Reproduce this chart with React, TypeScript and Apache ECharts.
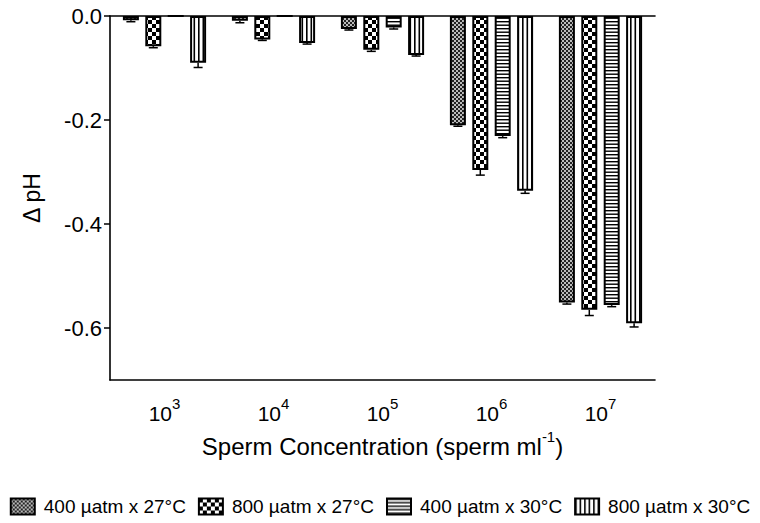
import React, { useEffect, useRef } from 'react';
import * as echarts from 'echarts';

// Concentration exponents (sperm ml^-1 = 10^n)
const exponents = ['3', '4', '5', '6', '7'];
const seriesNames = ['400 µatm x 27°C', '800 µatm x 27°C', '400 µatm x 30°C', '800 µatm x 30°C'];

// Mean ΔpH per concentration
const ph400x27 = [-0.008, -0.009, -0.025, -0.21, -0.551];
const ph800x27 = [-0.058, -0.045, -0.065, -0.296, -0.565];
const ph400x30 = [0, 0, -0.022, -0.231, -0.556];
const ph800x30 = [-0.09, -0.052, -0.075, -0.336, -0.591];

// Standard errors
const se400x27 = [0.003, 0.004, 0.002, 0.002, 0.003];
const se800x27 = [0.003, 0.002, 0.003, 0.01, 0.011];
const se400x30 = [0, 0, 0.003, 0.003, 0.003];
const se800x30 = [0.009, 0.002, 0.002, 0.005, 0.007];

const yTickValues = [0, -0.2, -0.4, -0.6];

const FONT = '"Liberation Sans", Arial, Helvetica, sans-serif';
const BAR_W = 16;
const BAR_GAP = 0.4;

function makePattern(kind: string) {
  const c = document.createElement('canvas');
  let w = 4, h = 4;
  if (kind === 'coarse') { w = 8; h = 8; }
  if (kind === 'hlines') { w = 4; h = 7; }
  if (kind === 'vlines') { w = 9; h = 4; }
  c.width = w; c.height = h;
  const ctx = c.getContext('2d')!;
  ctx.fillStyle = '#fff';
  ctx.fillRect(0, 0, w, h);
  ctx.fillStyle = '#000';
  if (kind === 'fine') {
    ctx.fillStyle = '#222';
    ctx.fillRect(0, 0, 2, 2);
    ctx.fillRect(2, 2, 2, 2);
    ctx.fillStyle = '#bbb';
    ctx.fillRect(2, 0, 2, 2);
    ctx.fillRect(0, 2, 2, 2);
  } else if (kind === 'coarse') {
    ctx.fillRect(0, 0, 4, 4);
    ctx.fillRect(4, 4, 4, 4);
  } else if (kind === 'hlines') {
    ctx.fillRect(0, 0, w, 1.4);
    ctx.fillRect(0, 3.5, w, 1.4);
  } else if (kind === 'vlines') {
    ctx.fillRect(0, 0, 1.6, h);
    ctx.fillRect(4.5, 0, 1.6, h);
  }
  return { image: c, repeat: 'repeat', imageWidth: w, imageHeight: h } as any;
}

export default function App() {
  const ref = useRef<HTMLDivElement>(null);
  useEffect(() => {
    if (!ref.current) return;
    const chart = echarts.init(ref.current, undefined, { renderer: 'svg' });
    const means = [ph400x27, ph800x27, ph400x30, ph800x30];
    const errs = [se400x27, se800x27, se400x30, se800x30];
    const kinds = ['fine', 'coarse', 'hlines', 'vlines'];

    const barSeries = means.map((vals, s) => ({
      name: seriesNames[s],
      type: 'bar',
      xAxisIndex: 0,
      barWidth: BAR_W,
      barGap: BAR_GAP * 100 + '%',
      data: vals,
      itemStyle: { color: makePattern(kinds[s]), borderColor: '#000', borderWidth: 2 },
      z: 2,
    }));

    const errData: number[][] = [];
    means.forEach((vals, s) => {
      vals.forEach((v, i) => errData.push([i, s, v, errs[s][i]]));
    });

    const step = BAR_W * (1 + BAR_GAP);
    const errSeries = {
      type: 'custom',
      xAxisIndex: 0,
      z: 5,
      silent: true,
      data: errData,
      encode: { x: 0, y: 2 },
      renderItem: (params: any, api: any) => {
        const cat = api.value(0);
        const s = api.value(1);
        const v = api.value(2);
        const e = api.value(3);
        if (!e) return null;
        const p0 = api.coord([cat, v]);
        const p1 = api.coord([cat, v - e]);
        const x = p0[0] + (s - 1.5) * step;
        const style = { stroke: '#000', lineWidth: 1.5 };
        return {
          type: 'group',
          children: [
            { type: 'line', shape: { x1: x, y1: p0[1], x2: x, y2: p1[1] }, style },
            { type: 'line', shape: { x1: x - 4.5, y1: p1[1], x2: x + 4.5, y2: p1[1] }, style },
          ],
        };
      },
    };

    chart.setOption({
      animation: false,
      textStyle: { fontFamily: FONT },
      grid: { left: 110, right: 105, top: 16, bottom: 143, containLabel: false },
      legend: {
        data: seriesNames,
        left: 'center',
        top: 492,
        icon: 'rect',
        itemWidth: 24,
        itemHeight: 16,
        itemGap: 12,
        textStyle: { fontSize: 19, color: '#000', fontFamily: FONT, padding: [0, 0, 0, 4] },
      },
      xAxis: [
        {
          type: 'category',
          position: 'bottom',
          data: exponents,
          axisLine: { onZero: false, lineStyle: { color: '#000', width: 1.6 } },
          axisTick: { alignWithLabel: true, interval: 0, length: 6, lineStyle: { color: '#000', width: 1.5 } },
          axisLabel: {
            interval: 0,
            margin: 16,
            fontSize: 21,
            color: '#000',
            formatter: (v: string) => `{b|10}{s|${v}}`,
            rich: {
              b: { fontSize: 21, color: '#000', fontFamily: FONT, lineHeight: 28, verticalAlign: 'bottom' },
              s: { fontSize: 15, color: '#000', fontFamily: FONT, lineHeight: 28, verticalAlign: 'top' },
            },
          },
          name: '{a|Sperm Concentration (sperm ml}{s|-1}{a|)}',
          nameLocation: 'middle',
          nameGap: 48,
          nameTextStyle: {
            rich: {
              a: { fontSize: 24, color: '#000', fontFamily: FONT, lineHeight: 30, verticalAlign: 'bottom' },
              s: { fontSize: 15, color: '#000', fontFamily: FONT, lineHeight: 30, verticalAlign: 'top' },
            },
          },
        },
        {
          type: 'category',
          position: 'top',
          data: exponents,
          axisLine: { onZero: false, lineStyle: { color: '#000', width: 1.6 } },
          axisTick: { show: false },
          axisLabel: { show: false },
        },
      ],
      yAxis: {
        type: 'value',
        min: -0.7,
        max: 0,
        axisLine: { show: true, lineStyle: { color: '#000', width: 1.6 } },
        axisTick: { show: true, length: 6, customValues: yTickValues, lineStyle: { color: '#000', width: 1.5 } },
        axisLabel: {
          customValues: yTickValues,
          fontSize: 22,
          color: '#000',
          margin: 8,
          formatter: (v: number) => (Math.abs(v) < 1e-9 ? '0.0' : v.toFixed(1)),
        },
        splitLine: { show: false },
        name: 'Δ pH',
        nameLocation: 'middle',
        nameGap: 67,
        nameTextStyle: { fontSize: 23, color: '#000', fontFamily: FONT },
      },
      series: [...barSeries, errSeries],
    });
    return () => chart.dispose();
  }, []);
  return <div ref={ref} style={{ width: 760, height: 523, position: 'absolute', left: 0, top: 0, background: '#fff' }} />;
}
